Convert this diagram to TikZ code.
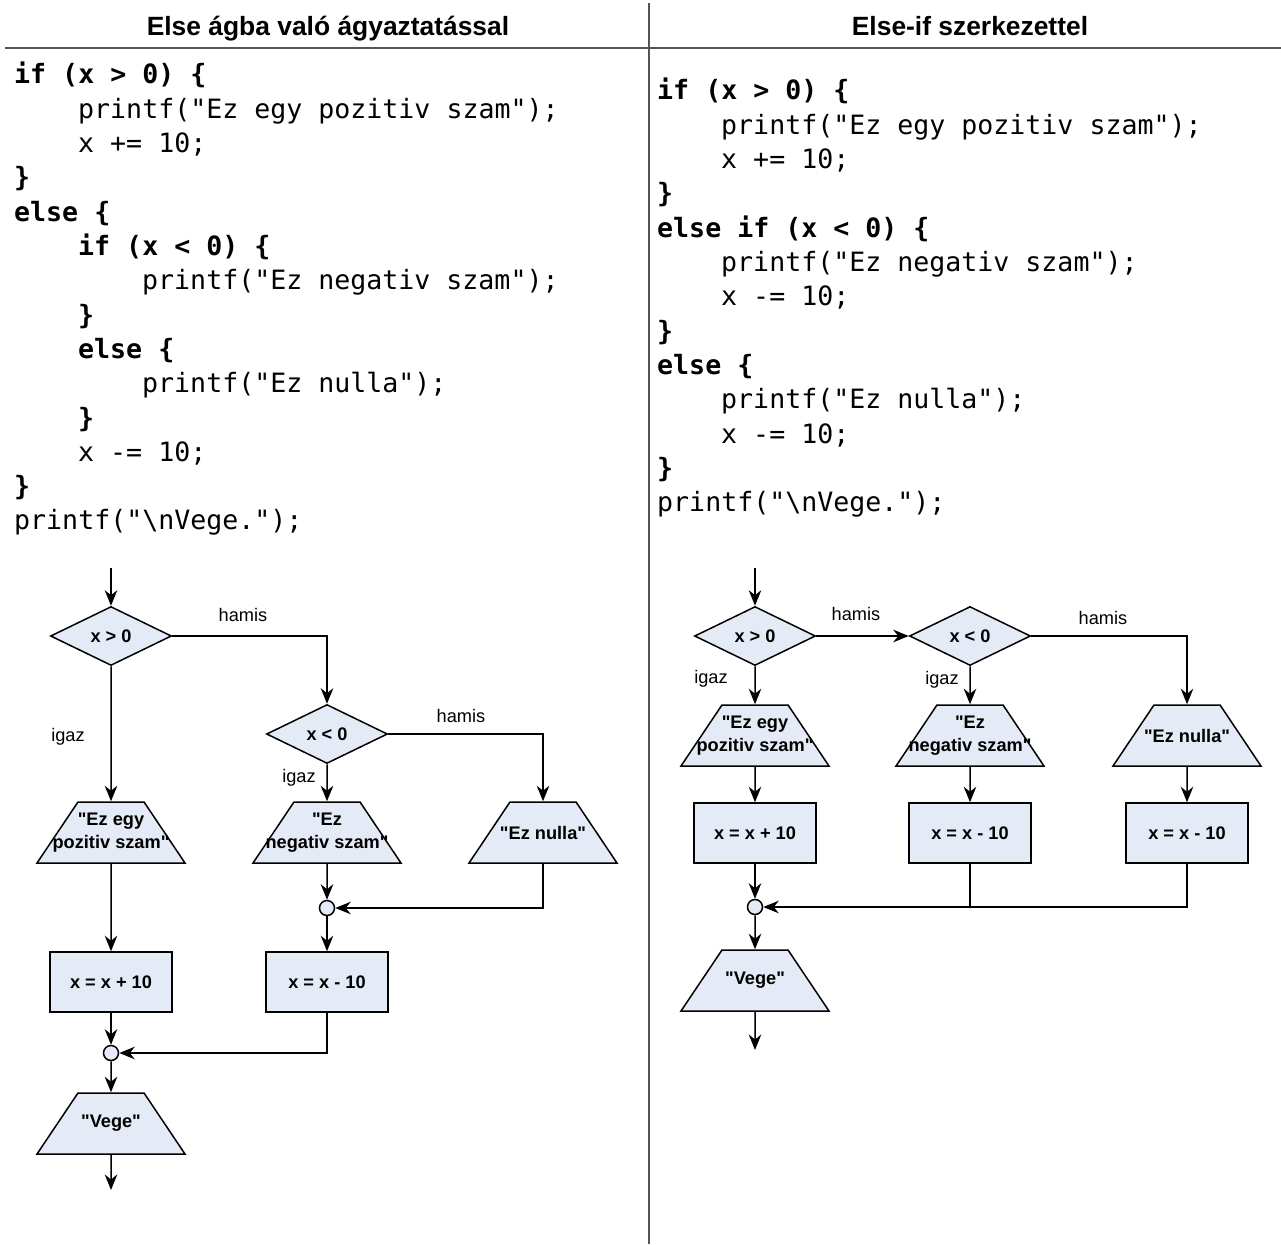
\documentclass[tikz,border=0pt]{standalone}
\usepackage{fontspec}
\setmainfont{Liberation Sans}[Ligatures=TeXOff]
\setmonofont{DejaVu Sans Mono}
\usetikzlibrary{shapes.geometric, arrows.meta}
\definecolor{boxfill}{HTML}{E5EBF6}
\definecolor{rulegrey}{HTML}{555555}

\tikzset{
  flow/.style={draw=black, line width=1.5pt, fill=boxfill, inner sep=0pt},
  boxfont/.style={font=\fontsize{18.2}{23}\selectfont\bfseries},
  decision/.style={flow, diamond, minimum width=121pt, minimum height=59pt, boxfont},
  process/.style={flow, rectangle, minimum width=122pt, minimum height=60pt, boxfont},
  io/.style={flow, inner sep=2pt, trapezium, trapezium left angle=59, trapezium right angle=59,
    trapezium stretches=true, minimum width=148pt, minimum height=61pt},
  iotext/.style={align=center, inner sep=0pt, boxfont},
  junction/.style={flow, circle, minimum size=15pt},
  flowline/.style={line width=1.5pt, -{Stealth[length=15.5pt, width=12.5pt, inset=5pt]}},
  joinline/.style={line width=1.5pt},
  branch/.style={inner sep=0pt, font=\fontsize{18.2}{21}\selectfont},
  code/.style={anchor=base west, inner sep=0pt, font=\ttfamily\fontsize{26.6}{34}\selectfont},
  heading/.style={anchor=base, inner sep=0pt, font=\bfseries\fontsize{26.4}{30}\selectfont},
  rule/.style={draw=rulegrey, line width=1.5pt},
}

\begin{document}
\begin{tikzpicture}[x=1pt, y=-1pt]
\fill[white] (0,0) rectangle (1281,1244);
\useasboundingbox (0,0) rectangle (1281,1244);

% column frame
\draw[rule] (649,3) -- (649,1244);
\draw[rule] (5,48) -- (1281,48);
\node[heading] (h1) at (328,36) {Else ágba való ágyaztatással};
\node[heading] (h2) at (970,36) {Else-if szerkezettel};

% ---------- nested else branch: source ----------
\node[code] (a1)  at (14,84)          {\bfseries if (x > 0) \{};
\node[code] (a2)  at (78,118.3)       {printf("Ez egy pozitiv szam");};
\node[code] (a3)  at (78,152.6)       {x += 10;};
\node[code] (a4)  at (14,186.9)       {\bfseries \}};
\node[code] (a5)  at (14,221.2)       {\bfseries else \{};
\node[code] (a6)  at (78,255.5)       {\bfseries if (x < 0) \{};
\node[code] (a7)  at (142,289.8)      {printf("Ez negativ szam");};
\node[code] (a8)  at (78,324.1)       {\bfseries \}};
\node[code] (a9)  at (78,358.4)       {\bfseries else \{};
\node[code] (a10) at (142,392.7)      {printf("Ez nulla");};
\node[code] (a11) at (78,427)         {\bfseries \}};
\node[code] (a12) at (78,461.3)       {x -= 10;};
\node[code] (a13) at (14,495.6)       {\bfseries \}};
\node[code] (a14) at (14,529.9)       {printf("\textbackslash nVege.");};

% ---------- else-if chain: source ----------
\node[code] (b1)  at (657,100)        {\bfseries if (x > 0) \{};
\node[code] (b2)  at (721,134.3)      {printf("Ez egy pozitiv szam");};
\node[code] (b3)  at (721,168.6)      {x += 10;};
\node[code] (b4)  at (657,202.9)      {\bfseries \}};
\node[code] (b5)  at (657,237.2)      {\bfseries else if (x < 0) \{};
\node[code] (b6)  at (721,271.5)      {printf("Ez negativ szam");};
\node[code] (b7)  at (721,305.8)      {x -= 10;};
\node[code] (b8)  at (657,340.1)      {\bfseries \}};
\node[code] (b9)  at (657,374.4)      {\bfseries else \{};
\node[code] (b10) at (721,408.7)      {printf("Ez nulla");};
\node[code] (b11) at (721,443)        {x -= 10;};
\node[code] (b12) at (657,477.3)      {\bfseries \}};
\node[code] (b13) at (657,511.6)      {printf("\textbackslash nVege.");};

% ---------- nested else branch: flowchart ----------
\coordinate (in1)  at (111,568);
\coordinate (out1) at (111,1190);
\node[decision] (d1) at (111,636) {x > 0};
\node[decision] (d2) at (327,734) {x < 0};
\node[io] (t1) at (111,832.5) {\phantom{x}};
\node[io] (t2) at (327,832.5) {\phantom{x}};
\node[io] (t3) at (543,832.5) {\phantom{x}};
\node[iotext] (t1x) at (t1) {"Ez egy\\pozitiv szam"};
\node[iotext] (t2x) at (t2) {"Ez\\negativ szam"};
\node[iotext] (t3x) at (t3) {"Ez nulla"};
\node[junction] (c1) at (327,908) {};
\node[process] (r1) at (111,982) {x = x + 10};
\node[process] (r2) at (327,982) {x = x - 10};
\node[junction] (c2) at (111,1053) {};
\node[io] (t4) at (111,1123.5) {\phantom{x}};
\node[iotext] (t4x) at (t4) {"Vege"};

\draw[flowline] (in1) -- (d1.north);
\draw[flowline] (d1.east) -| (d2.north);
\draw[flowline] (d1.south) -- (t1.north);
\draw[flowline] (d2.south) -- (t2.north);
\draw[flowline] (d2.east) -| (t3.north);
\draw[flowline] (t2.south) -- (c1.north);
\draw[flowline] (t3.south) |- (c1.east);
\draw[flowline] (c1.south) -- (r2.north);
\draw[flowline] (t1.south) -- (r1.north);
\draw[flowline] (r1.south) -- (c2.north);
\draw[flowline] (r2.south) |- (c2.east);
\draw[flowline] (c2.south) -- (t4.north);
\draw[flowline] (t4.south) -- (out1);

\node[branch] (l1) at (243,615) {hamis};
\node[branch] (l2) at (68,737) {igaz};
\node[branch] (l3) at (461,716) {hamis};
\node[branch] (l4) at (299,778) {igaz};

% ---------- else-if chain: flowchart ----------
\coordinate (in2)  at (755,568);
\coordinate (out2) at (755,1050);
\node[decision] (e1) at (755,636) {x > 0};
\node[decision] (e2) at (970,636) {x < 0};
\node[io] (u1) at (755,735.5) {\phantom{x}};
\node[io] (u2) at (970,735.5) {\phantom{x}};
\node[io] (u3) at (1187,735.5) {\phantom{x}};
\node[iotext] (u1x) at (u1) {"Ez egy\\pozitiv szam"};
\node[iotext] (u2x) at (u2) {"Ez\\negativ szam"};
\node[iotext] (u3x) at (u3) {"Ez nulla"};
\node[process] (s1) at (755,833) {x = x + 10};
\node[process] (s2) at (970,833) {x = x - 10};
\node[process] (s3) at (1187,833) {x = x - 10};
\node[junction] (c3) at (755,907) {};
\node[io] (u4) at (755,980.5) {\phantom{x}};
\node[iotext] (u4x) at (u4) {"Vege"};

\draw[flowline] (in2) -- (e1.north);
\draw[flowline] (e1.east) -- (e2.west);
\draw[flowline] (e1.south) -- (u1.north);
\draw[flowline] (e2.south) -- (u2.north);
\draw[flowline] (e2.east) -| (u3.north);
\draw[flowline] (u1.south) -- (s1.north);
\draw[flowline] (u2.south) -- (s2.north);
\draw[flowline] (u3.south) -- (s3.north);
\draw[flowline] (s1.south) -- (c3.north);
\draw[flowline] (s3.south) |- (c3.east);
\draw[joinline] (s2.south) -- (s2.south |- c3.east);
\draw[flowline] (c3.south) -- (u4.north);
\draw[flowline] (u4.south) -- (out2);

\node[branch] (m1) at (856,614) {hamis};
\node[branch] (m2) at (711,679) {igaz};
\node[branch] (m3) at (942,680) {igaz};
\node[branch] (m4) at (1103,618) {hamis};
\end{tikzpicture}
\end{document}
